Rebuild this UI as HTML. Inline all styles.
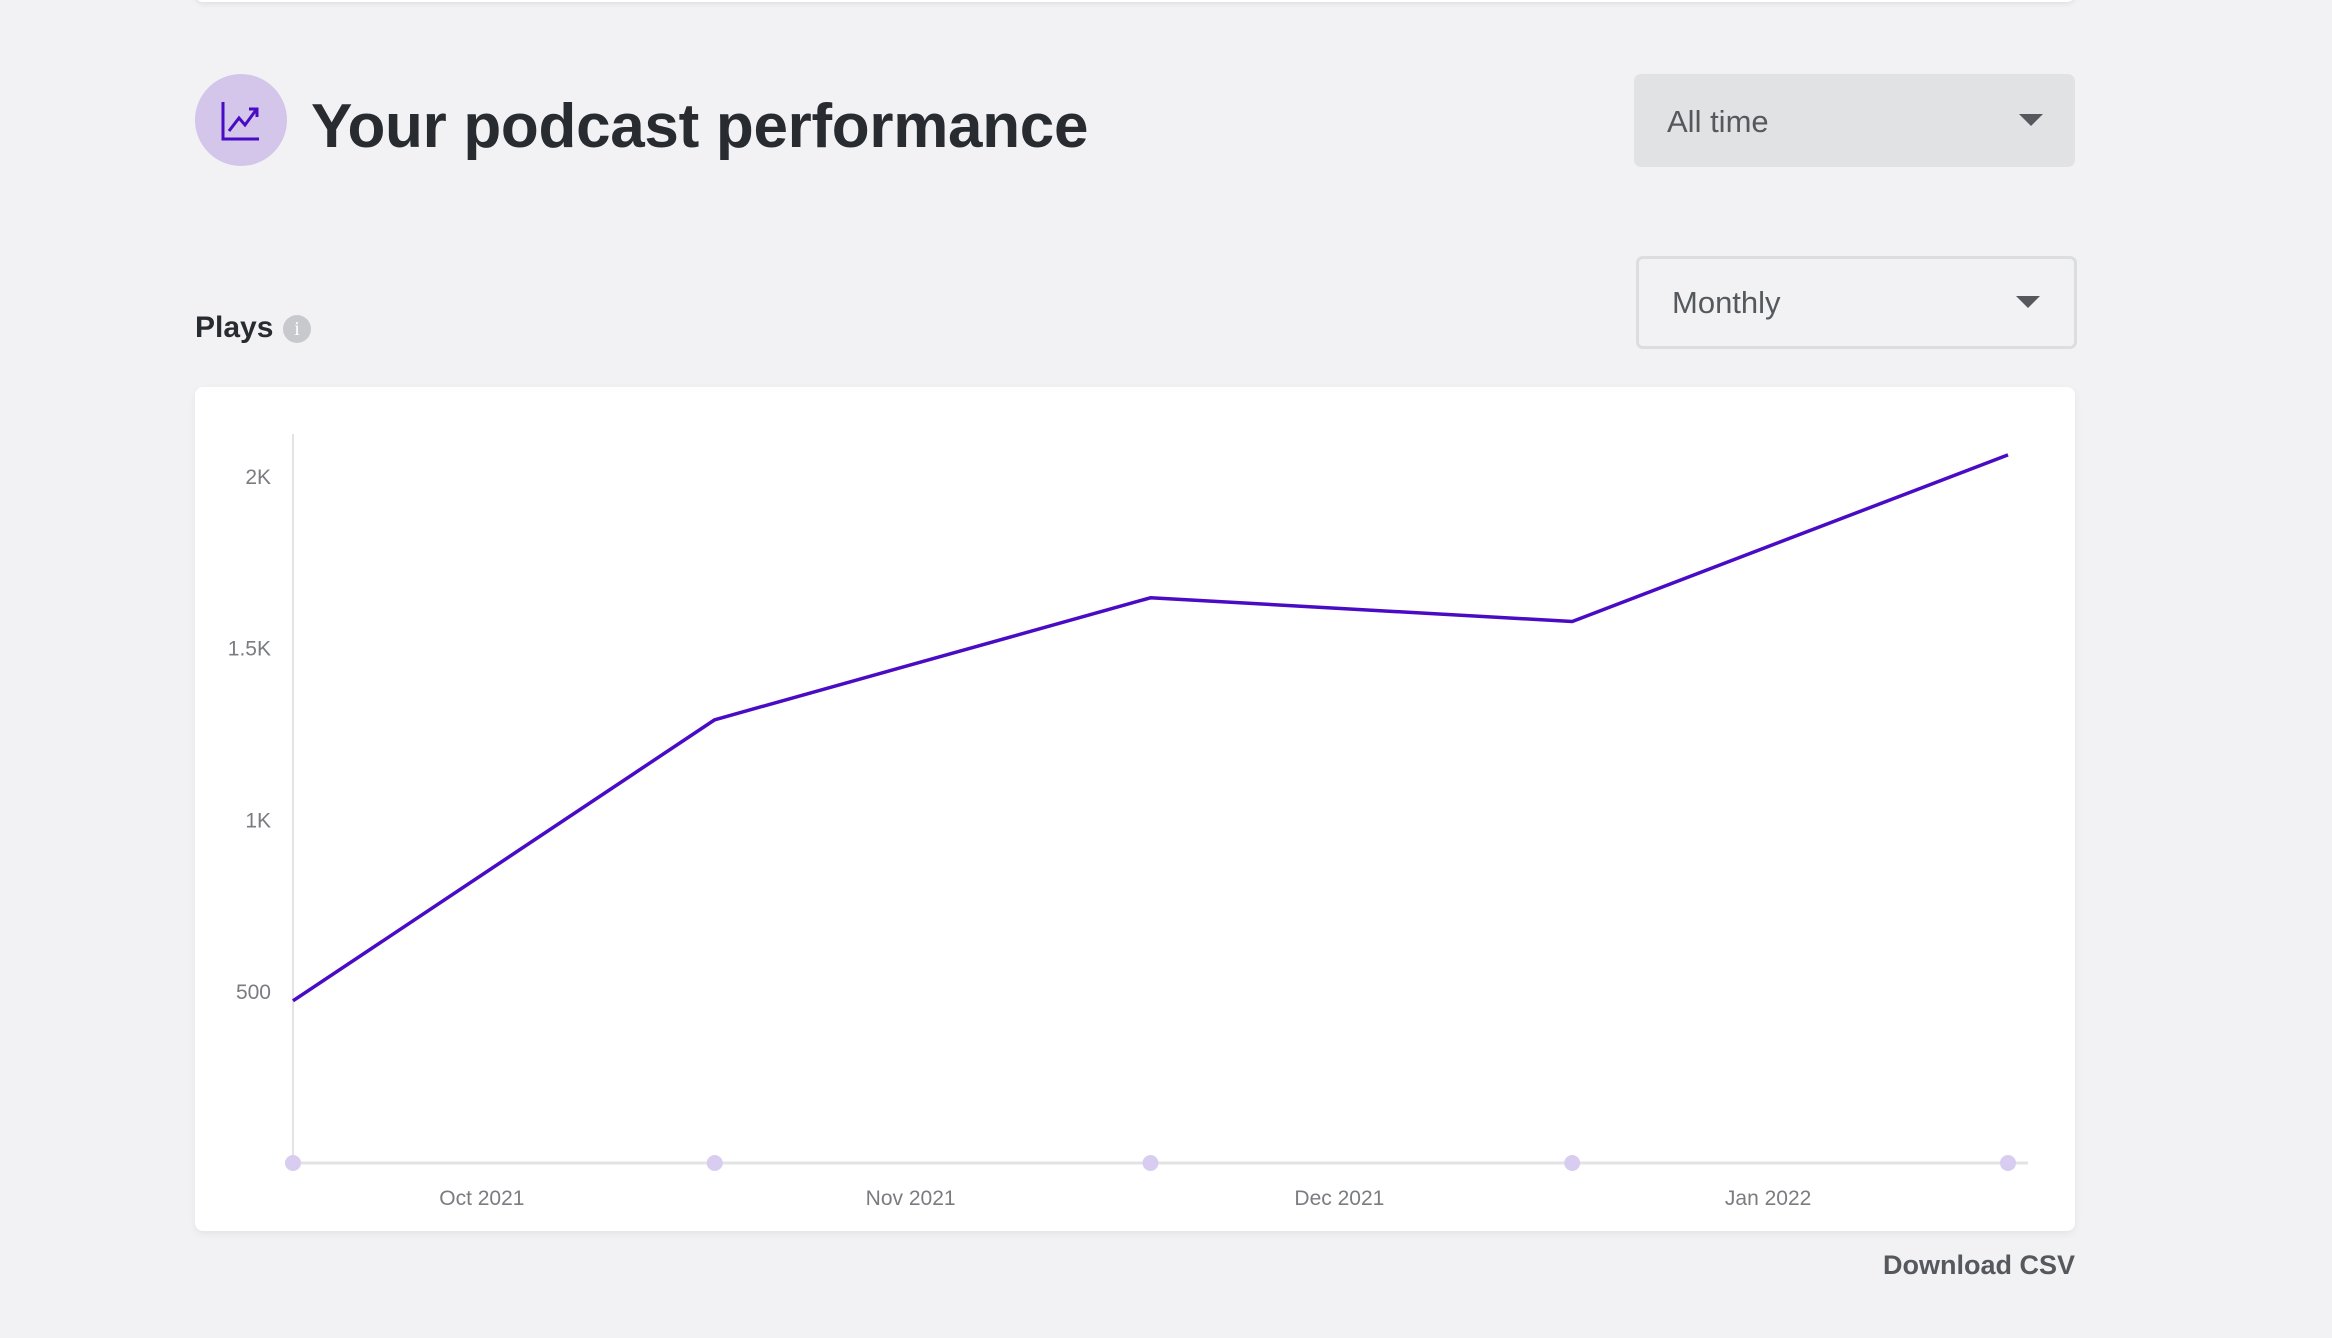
<!DOCTYPE html>
<html><head><meta charset="utf-8"><style>
html,body{margin:0;padding:0;width:2332px;height:1338px;background:#f2f2f4;overflow:hidden;font-family:"Liberation Sans",sans-serif;}
.abs{position:absolute;}
</style></head><body>
<div class="abs" style="left:195px;top:-20px;width:1880px;height:22px;background:#fff;border-radius:8px;box-shadow:0 2px 6px rgba(0,0,0,0.08)"></div>
<div class="abs" style="left:195px;top:74px;width:92px;height:92px;border-radius:50%;background:#d3c6ea">
<svg width="92" height="92" viewBox="0 0 92 92"><path d="M28 28 V65 H64" fill="none" stroke="#4a0bc4" stroke-width="3"/><path d="M34 57 L44 44 L50 51 L61 36" fill="none" stroke="#4a0bc4" stroke-width="3"/><path d="M54 35 H62 V43" fill="none" stroke="#4a0bc4" stroke-width="3"/></svg></div>
<div class="abs" style="left:311px;top:91px;font-size:62px;font-weight:bold;color:#282c31;letter-spacing:-0.3px">Your podcast performance</div>
<div class="abs" style="left:1634px;top:74px;width:441px;height:93px;background:#e1e2e4;border-radius:7px">
<span class="abs" style="left:33px;top:30px;font-size:31px;color:#55585d">All time</span>
<div class="abs" style="left:385px;top:40px;width:0;height:0;border-left:12px solid transparent;border-right:12px solid transparent;border-top:12px solid #55585d"></div></div>
<div class="abs" style="left:1636px;top:256px;width:435px;height:87px;border:3px solid #dcdde0;border-radius:7px">
<span class="abs" style="left:33px;top:26px;font-size:31px;color:#55585d">Monthly</span>
<div class="abs" style="left:377px;top:37px;width:0;height:0;border-left:12px solid transparent;border-right:12px solid transparent;border-top:12px solid #55585d"></div></div>
<div class="abs" style="left:195px;top:311px;font-size:30px;font-weight:bold;color:#282c31">Plays</div>
<div class="abs" style="left:283px;top:315px;width:28px;height:28px;border-radius:50%;background:#c8c9cc;color:#fff;font-size:20px;text-align:center;line-height:28px;font-family:'Liberation Serif',serif">i</div>
<div class="abs" style="left:195px;top:387px;width:1880px;height:844px;background:#fff;border-radius:8px;box-shadow:0 3px 8px rgba(0,0,0,0.06)"></div>
<svg class="abs" style="left:0;top:0" width="2332" height="1338" id="chart"></svg>
<div class="abs" style="right:257px;top:1250px;font-size:27px;color:#55585d;font-weight:bold">Download CSV</div>
<script>
const categories=["2021-09-01","2021-10-01","2021-11-01","2021-12-01","2022-01-01"];
const dayOffsets=[0,30,61,91,122];
const plays=[472,1290,1645,1576,2061];
const yTicks=[500,1000,1500,2000];
const yTickLabels=["500","1K","1.5K","2K"];
const xLabels=["Oct 2021","Nov 2021","Dec 2021","Jan 2022"];
const NS="http://www.w3.org/2000/svg";
const svg=document.getElementById('chart');
const X0=293,X1=2008,Y0=1163,PX_PER=171.8/500;
const maxDay=dayOffsets[dayOffsets.length-1];
const xs=i=>X0+(X1-X0)*dayOffsets[i]/maxDay;
const ys=v=>Y0-v*PX_PER;
function el(t,a){const e=document.createElementNS(NS,t);for(const k in a)e.setAttribute(k,a[k]);svg.appendChild(e);return e;}
let e=el('line',{x1:X0,y1:434,x2:X0,y2:Y0,stroke:'#e3e3e6','stroke-width':2});


e=el('line',{x1:X0,y1:Y0,x2:2028,y2:Y0,stroke:'#e3e3e6','stroke-width':3});


yTicks.forEach((v,i)=>{const t=el('text',{x:271,y:ys(v)+8,'text-anchor':'end','font-size':21,fill:'#7a7c80','font-family':'Liberation Sans, sans-serif'});t.textContent=yTickLabels[i];

});
xLabels.forEach((l,i)=>{const t=el('text',{x:(xs(i)+xs(i+1))/2-22,y:1205,'text-anchor':'middle','font-size':21,fill:'#7a7c80','font-family':'Liberation Sans, sans-serif'});t.textContent=l;

});
categories.forEach((c,i)=>{const d=el('circle',{cx:xs(i),cy:Y0,r:8,fill:'#d8cdf0'});

});
const pl=el('polyline',{points:plays.map((v,i)=>xs(i)+','+ys(v)).join(' '),fill:'none',stroke:'#4a0bc4','stroke-width':3.5,'stroke-linejoin':'round'});


</script>
</body></html>
